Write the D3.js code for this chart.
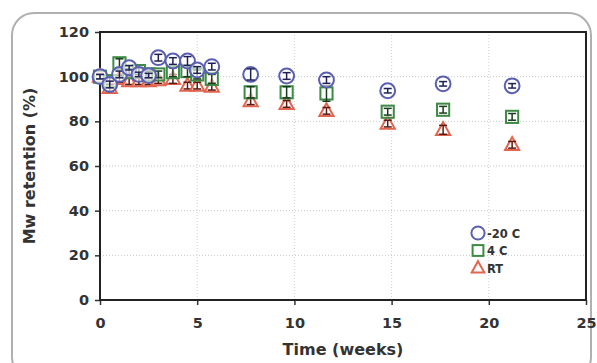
<!DOCTYPE html>
<html>
<head>
<meta charset="utf-8">
<script src="https://cdn.jsdelivr.net/npm/d3@7"></script>
<style>
  html, body { margin: 0; padding: 0; background: #fff; }
  svg { display: block; }
  text { font-family: "DejaVu Sans", Verdana, sans-serif; font-weight: bold; fill: #333; }
</style>
</head>
<body>
<svg id="chart" width="597" height="363"></svg>
<script>
// Storage time points (weeks)
const weeks = [0, 0.5, 1, 1.5, 2, 2.5, 3, 3.75, 4.5, 5, 5.75, 7.75, 9.6, 11.65, 14.8, 17.65, 21.2];

// Mw retention (%) per storage condition
const minus20C = [100, 96.5, 101, 104, 101, 100.5, 108.5, 107, 107, 103, 104.5, 101, 100.3, 98.5, 93.7, 96.8, 95.9];
const fourC    = [100, 98, 106, 102, 102.5, 101, 101, 102, 102.5, 101, 99, 93, 93, 92.5, 84.3, 85.2, 82];
const roomT    = [100, 95, 99, 98, 98, 98, 98.5, 99, 96, 96, 95.5, 89, 87.8, 84.7, 79, 76.2, 69.5];

// Error bar half-widths (%)
const minus20CErr = [1, 1.5, 1.5, 1, 1, 1, 1.5, 1.5, 2, 1.5, 1.5, 2.5, 1.5, 1.5, 1, 1, 1];
const fourCErr    = [1, 1.5, 2, 1.5, 1.5, 1.5, 1.5, 2, 2.5, 2, 2, 2.5, 2.5, 3.5, 1.5, 1.5, 1.5];
const roomTErr    = [1, 1.5, 1.5, 1.5, 1.5, 1.5, 1.5, 2, 1.5, 1.5, 1.5, 1.5, 1.5, 1.5, 1.5, 2, 1.5];

const seriesNames = ["-20 C", "4 C", "RT"];
const xTicks = [0, 5, 10, 15, 20, 25];
const yTicks = [0, 20, 40, 60, 80, 100, 120];

const series = [
  { name: seriesNames[0], values: minus20C, err: minus20CErr, shape: "circle",   stroke: "#5b5fb0", bar: "#1f2155" },
  { name: seriesNames[1], values: fourC,    err: fourCErr,    shape: "square",   stroke: "#3d8a45", bar: "#173d1c" },
  { name: seriesNames[2], values: roomT,    err: roomTErr,    shape: "triangle", stroke: "#e2654f", bar: "#5a1a12" }
];

const svg = d3.select("#chart");

// Rounded panel border
svg.append("rect")
  .attr("x", 12).attr("y", 13).attr("width", 579).attr("height", 366)
  .attr("rx", 22).attr("ry", 22)
  .attr("fill", "none").attr("stroke", "#b0b0b0").attr("stroke-width", 2);

const plot = { left: 100, right: 586, top: 32, bottom: 300 };

const x = d3.scaleLinear().domain([0, 25]).range([plot.left, plot.right]);
const y = d3.scaleLinear().domain([0, 120]).range([plot.bottom, plot.top]);

// Dotted gridlines
const grid = svg.append("g");
grid.selectAll("line.h").data(yTicks.filter(v => v > 0 && v < 120)).join("line")
  .attr("x1", plot.left).attr("x2", plot.right)
  .attr("y1", d => y(d)).attr("y2", d => y(d))
  .attr("stroke", "#c8c8c8").attr("stroke-width", 1).attr("stroke-dasharray", "1,2");
grid.selectAll("line.v").data(xTicks.filter(v => v > 0 && v < 25)).join("line")
  .attr("y1", plot.top).attr("y2", plot.bottom)
  .attr("x1", d => x(d)).attr("x2", d => x(d))
  .attr("stroke", "#d0d0d0").attr("stroke-width", 1).attr("stroke-dasharray", "1,2");

// Axes
const xAxis = svg.append("g")
  .attr("transform", `translate(0,${plot.bottom})`)
  .call(d3.axisBottom(x).tickValues(xTicks).tickSize(5).tickPadding(13));
const yAxis = svg.append("g")
  .attr("transform", `translate(${plot.left},0)`)
  .call(d3.axisLeft(y).tickValues(yTicks).tickSize(5).tickPadding(6));
[xAxis, yAxis].forEach(a => {
  a.select(".domain").remove();
  a.selectAll("line").attr("stroke", "#333").attr("stroke-width", 1.5);
  a.selectAll("text").style("font-size", "14.5px").attr("fill", "#333");
});

// Plot frame
svg.append("rect")
  .attr("x", plot.left).attr("y", plot.top)
  .attr("width", plot.right - plot.left).attr("height", plot.bottom - plot.top)
  .attr("fill", "none").attr("stroke", "#222").attr("stroke-width", 2);

// Axis titles
svg.append("text")
  .attr("x", x(12.5)).attr("y", 355)
  .attr("text-anchor", "middle").style("font-size", "16px")
  .text("Time (weeks)");
svg.append("text")
  .attr("transform", `translate(35,${y(60)}) rotate(-90)`)
  .attr("text-anchor", "middle").style("font-size", "16px")
  .text("Mw retention (%)");

// Marker shapes
function drawMarker(g, shape, cx, cy, size, stroke) {
  if (shape === "circle") {
    g.append("circle").attr("cx", cx).attr("cy", cy).attr("r", size * 0.55)
      .attr("fill", "rgba(255,255,255,0.6)").attr("stroke", stroke).attr("stroke-width", 2);
  } else if (shape === "square") {
    const s = size * 0.9;
    g.append("rect").attr("x", cx - s / 2).attr("y", cy - s / 2).attr("width", s).attr("height", s)
      .attr("fill", "rgba(255,255,255,0.6)").attr("stroke", stroke).attr("stroke-width", 2);
  } else {
    const h = size * 0.95, w = size * 1.05;
    g.append("path")
      .attr("d", `M${cx},${cy - h * 0.6} L${cx + w / 2},${cy + h * 0.4} L${cx - w / 2},${cy + h * 0.4} Z`)
      .attr("fill", "rgba(255,255,255,0.6)").attr("stroke", stroke).attr("stroke-width", 2);
  }
}

// Draw series: markers with error bars (RT first, -20 C on top)
const marks = svg.append("g");
[...series].reverse().forEach(s => {
  const g = marks.append("g");
  weeks.forEach((w, i) => {
    const cx = x(w), cy = y(s.values[i]);
    drawMarker(g, s.shape, cx, cy, 13.5, s.stroke);
    const y1 = y(s.values[i] + s.err[i]), y2 = y(s.values[i] - s.err[i]);
    g.append("line").attr("x1", cx).attr("x2", cx).attr("y1", y1).attr("y2", y2)
      .attr("stroke", s.bar).attr("stroke-width", 1.5);
    [y1, y2].forEach(yy => g.append("line")
      .attr("x1", cx - 4).attr("x2", cx + 4).attr("y1", yy).attr("y2", yy)
      .attr("stroke", s.bar).attr("stroke-width", 1.5));
  });
});

// Legend
const legend = svg.append("g").attr("transform", "translate(478,233)");
series.forEach((s, i) => {
  const row = legend.append("g").attr("transform", `translate(0,${i * 17.5})`);
  drawMarker(row, s.shape, 0, 0, 12, s.stroke);
  row.append("text").attr("x", 9).attr("y", 4.5)
    .style("font-size", "11.5px").attr("fill", "#333")
    .text(s.name);
});
</script>
</body>
</html>
